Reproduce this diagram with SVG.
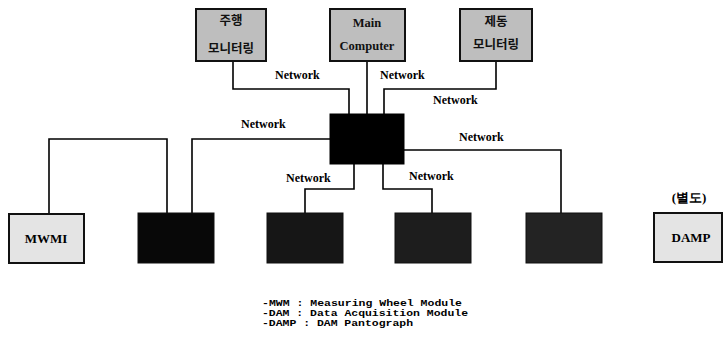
<svg xmlns="http://www.w3.org/2000/svg" width="724" height="343" viewBox="0 0 724 343">
<style>
.bg{fill:#ffffff}
.top{fill:#bebebe;stroke:#111;stroke-width:2}
.light{fill:#e4e4e4;stroke:#111;stroke-width:2}
.dark{stroke:#111;stroke-width:1}
.hub{fill:#000;stroke:#000;stroke-width:1}
.wire{fill:none;stroke:#000;stroke-width:1.6}
.lbl{font-family:"Liberation Serif","Times New Roman",serif;font-weight:bold;font-size:12px;fill:#000}
.box{font-family:"Liberation Serif","Times New Roman",serif;font-weight:bold;font-size:12.5px;fill:#111;text-anchor:middle}
.kr{font-family:"Noto Sans CJK KR","Noto Sans",sans-serif;font-weight:bold;font-size:12.5px;fill:#111;text-anchor:middle}
.big{font-family:"Liberation Serif","Times New Roman",serif;font-weight:bold;font-size:13px;fill:#000;text-anchor:middle}
.leg{font-family:"Liberation Mono","Courier New",monospace;font-weight:bold;font-size:9.5px;fill:#000}
</style>
<rect class="bg" x="0" y="0" width="724" height="343"/>
<g id="connectors">
<polyline class="wire" points="233,61 233,89 349,89 349,115"/>
<polyline class="wire" points="367,61 367,115"/>
<polyline class="wire" points="496,61 496,89 384,89 384,115"/>
<polyline class="wire" points="330,139 192,139 192,214"/>
<polyline class="wire" points="49,214 49,139 167,139 167,214"/>
<polyline class="wire" points="354,163 354,189 305,189 305,214"/>
<polyline class="wire" points="383,163 383,189 432,189 432,214"/>
<polyline class="wire" points="404,150 561,150 561,214"/>
<text class="lbl" x="275" y="79">Network</text>
<text class="lbl" x="380" y="79">Network</text>
<text class="lbl" x="433" y="104">Network</text>
<text class="lbl" x="241" y="128">Network</text>
<text class="lbl" x="459" y="141">Network</text>
<text class="lbl" x="286" y="182">Network</text>
<text class="lbl" x="409" y="180">Network</text>
</g>
<g id="node-drive-monitor">
<rect class="top" x="196" y="9" width="70" height="52"/>
<text class="kr" x="231" y="25">주행</text>
<text class="kr" x="231" y="53">모니터링</text>
</g>
<g id="node-main-computer">
<rect class="top" x="330" y="9" width="75" height="52"/>
<text class="box" x="367" y="27">Main</text>
<text class="box" x="367" y="50">Computer</text>
</g>
<g id="node-brake-monitor">
<rect class="top" x="460" y="9" width="72" height="52"/>
<text class="kr" x="496" y="26">제동</text>
<text class="kr" x="496" y="49">모니터링</text>
</g>
<g id="node-hub">
<rect class="hub" x="330" y="114" width="74" height="50"/>
</g>
<g id="node-mwmi">
<rect class="light" x="9" y="214" width="75" height="49"/>
<text class="big" x="46" y="243">MWMI</text>
</g>
<g id="node-dam1">
<rect class="dark" x="138" y="213" width="76" height="50" fill="#080808"/>
</g>
<g id="node-dam2">
<rect class="dark" x="267" y="213" width="76" height="50" fill="#161616"/>
</g>
<g id="node-dam3">
<rect class="dark" x="395" y="213" width="76" height="50" fill="#1d1d1d"/>
</g>
<g id="node-dam4">
<rect class="dark" x="526" y="213" width="76" height="50" fill="#232323"/>
</g>
<g id="node-damp">
<text class="big" x="689" y="202">(별도)</text>
<rect class="light" x="654" y="213" width="68" height="49"/>
<text class="big" x="691" y="242">DAMP</text>
</g>
<g id="legend">
<text class="leg" x="262" y="306" textLength="200" lengthAdjust="spacingAndGlyphs">-MWM : Measuring Wheel Module</text>
<text class="leg" x="262" y="316" textLength="206" lengthAdjust="spacingAndGlyphs">-DAM : Data Acquisition Module</text>
<text class="leg" x="262" y="326" textLength="151" lengthAdjust="spacingAndGlyphs">-DAMP : DAM Pantograph</text>
</g>
</svg>
